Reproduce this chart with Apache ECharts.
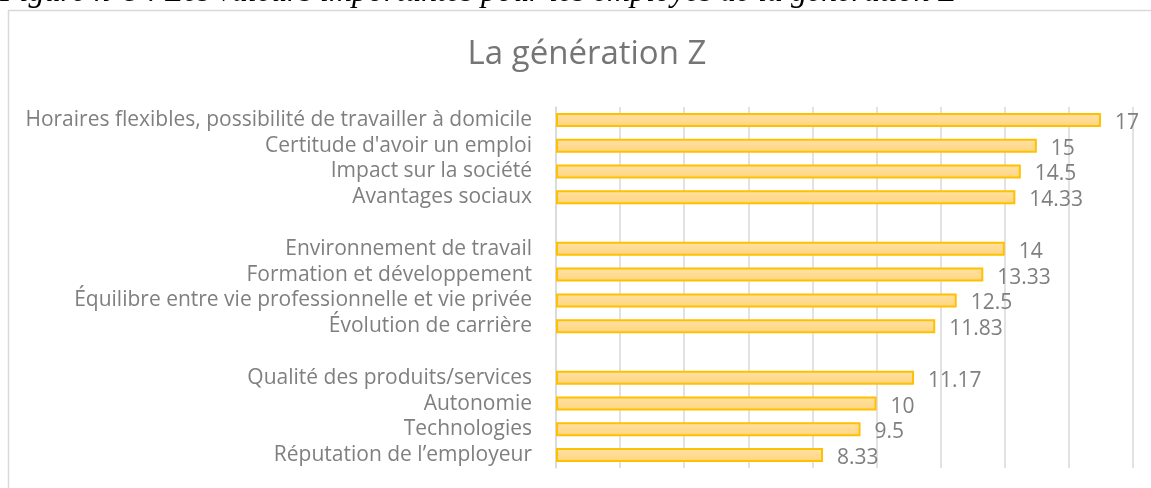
<!DOCTYPE html>
<html>
<head>
<meta charset="utf-8">
<script src="https://cdn.jsdelivr.net/npm/echarts@6/dist/echarts.min.js"></script>
<style>
  html, body { margin: 0; padding: 0; background: #fff; }
  #chart { width: 1151px; height: 488px; }
</style>
</head>
<body>
<div id="chart"></div>
<script>
// categories from bottom to top, '' = empty gap rows
var categories = [
    'Réputation de l\u2019employeur',
    'Technologies',
    'Autonomie',
    'Qualité des produits/services',
    '',
    'Évolution de carrière',
    'Équilibre entre vie professionnelle et vie privée',
    'Formation et développement',
    'Environnement de travail',
    '',
    'Avantages sociaux',
    'Impact sur la société',
    "Certitude d'avoir un emploi",
    'Horaires flexibles, possibilité de travailler à domicile'
];
var values = [8.33, 9.5, 10, 11.17, null, 11.83, 12.5, 13.33, 14, null, 14.33, 14.5, 15, 17];

var chart = echarts.init(document.getElementById('chart'));

var option = {
    backgroundColor: '#fff',
    animation: false,
    graphic: [{
        // caption of the figure, cut at the top
        type: 'text',
        x: 0,
        y: -7,
        style: {
            text: 'Figure n°8 : Les valeurs importantes pour les employés de la génération Z',
            font: 'italic 32px "Liberation Serif", serif',
            verticalAlign: 'middle',
            fill: '#000'
        }
    }, {
        // chart area border
        type: 'rect',
        shape: { x: 8.5, y: 10.5, width: 1200, height: 500 },
        style: { fill: 'none', stroke: '#d9d9d9', lineWidth: 1.5 }
    }],
    title: {
        text: 'La génération Z',
        left: 582,
        top: 33,
        textAlign: 'center',
        textStyle: {
            fontFamily: 'Open Sans',
            fontSize: 33,
            fontWeight: 'normal',
            color: '#757575'
        }
    },
    grid: {
        left: 556,
        right: 1151 - 1133,
        top: 107,
        bottom: 488 - 468,
        containLabel: false
    },
    xAxis: {
        type: 'value',
        min: 0,
        max: 18,
        interval: 2,
        axisLabel: { show: false },
        axisLine: { show: false },
        axisTick: { show: false },
        splitLine: { lineStyle: { color: '#d9d9d9', width: 1.5 } }
    },
    yAxis: {
        type: 'category',
        data: categories,
        axisTick: { show: false },
        axisLine: { lineStyle: { color: '#d9d9d9', width: 1.5 } },
        axisLabel: {
            interval: 0,
            fontFamily: 'Open Sans',
            fontSize: 21,
            color: '#7f7f7f',
            margin: 24
        }
    },
    series: [{
        type: 'bar',
        data: values,
        barWidth: 14,
        itemStyle: {
            color: new echarts.graphic.LinearGradient(0, 0, 0, 1, [
                { offset: 0, color: '#ffe2a6' },
                { offset: 1, color: '#ffd47e' }
            ]),
            borderColor: '#ffc000',
            borderWidth: 2
        },
        label: {
            show: true,
            position: 'right',
            distance: 14,
            offset: [0, 3],
            fontFamily: 'Open Sans',
            fontSize: 21,
            color: '#7f7f7f'
        }
    }]
};

chart.setOption(option);
</script>
</body>
</html>
